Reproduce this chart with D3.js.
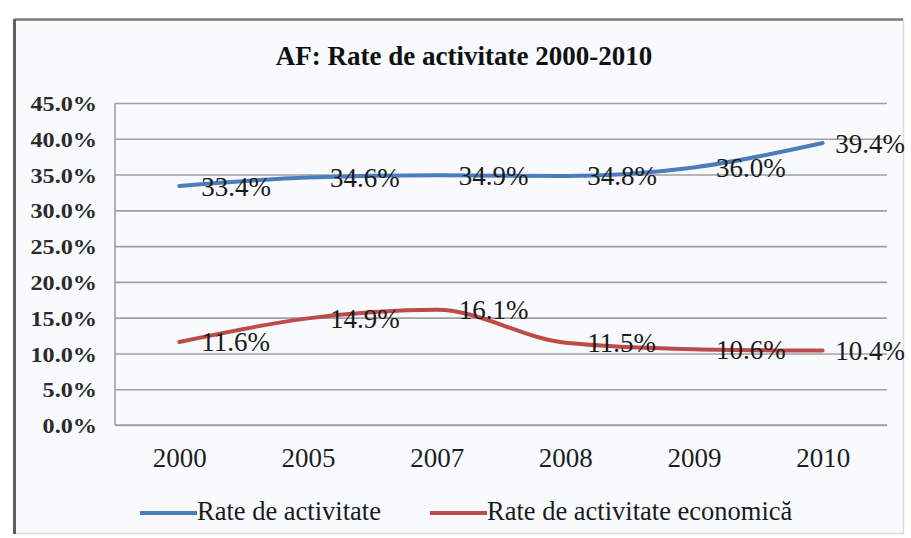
<!DOCTYPE html>
<html>
<head>
<meta charset="utf-8">
<script src="https://cdn.jsdelivr.net/npm/d3@7"></script>
<style>
  body { margin: 0; background: #fff; }
  svg { display: block; }
</style>
</head>
<body>
<div id="chart"></div>
<script>
// data
const years = ['2000', '2005', '2007', '2008', '2009', '2010'];
const rateActivitate = [33.4, 34.6, 34.9, 34.8, 36.0, 39.4];
const rateEconomica = [11.6, 14.9, 16.1, 11.5, 10.6, 10.4];
const yTicks = [0, 5, 10, 15, 20, 25, 30, 35, 40, 45];
const seriesNames = ['Rate de activitate', 'Rate de activitate economică'];
const titleText = 'AF: Rate de activitate 2000-2010';

const width = 911, height = 538;
const plot = { left: 115, right: 887, top: 103, bottom: 425 };
const frameRight = 905;
const colors = ['#4a7ebb', '#be4b48'];
const serif = 'Liberation Serif';

const svg = d3.select('#chart').append('svg')
  .attr('width', width)
  .attr('height', height);

svg.append('rect').attr('width', width).attr('height', height).attr('fill', '#fff');

// outer frame
svg.append('rect')
  .attr('x', 14.5).attr('y', 19.5)
  .attr('width', 889).attr('height', 514)
  .attr('fill', '#f8fafd')
  .attr('stroke', '#dcdcdc').attr('stroke-width', 1.5);
svg.append('line')
  .attr('x1', 14.5).attr('x2', 903).attr('y1', 19.5).attr('y2', 19.5)
  .attr('stroke', '#7e7878').attr('stroke-width', 2.5);
svg.append('line')
  .attr('x1', 14.5).attr('x2', 14.5).attr('y1', 19).attr('y2', 534)
  .attr('stroke', '#5f5d5d').attr('stroke-width', 3);

const x = d3.scalePoint()
  .domain(years)
  .range([plot.left, plot.right])
  .padding(0.5);

const y = d3.scaleLinear()
  .domain([0, 45])
  .range([plot.bottom, plot.top]);

// gridlines + y labels
const yAxis = svg.append('g')
  .attr('class', 'y-axis')
  .attr('transform', `translate(${plot.left},0)`)
  .call(d3.axisLeft(y)
    .tickValues(yTicks)
    .tickSize(-(plot.right - plot.left))
    .tickPadding(18)
    .tickFormat(d => d.toFixed(1) + '%'));
yAxis.select('.domain').remove();
yAxis.selectAll('.tick line')
  .attr('stroke', '#a69e9c')
  .attr('stroke-width', 1.6);
yAxis.selectAll('.tick text')
  .attr('font-family', serif)
  .attr('font-size', 20)
  .attr('font-weight', 'bold')
  .attr('fill', '#2b2b2b')
  .attr('dy', '0.38em')
  .each(function () {
    // the labels in the picture are stretched sideways
    const len = this.getComputedTextLength();
    d3.select(this).attr('textLength', len * 1.21).attr('lengthAdjust', 'spacingAndGlyphs');
  });

// axis lines
svg.append('line')
  .attr('x1', plot.left).attr('x2', plot.left)
  .attr('y1', plot.top).attr('y2', plot.bottom)
  .attr('stroke', '#a69e9c').attr('stroke-width', 1.6);
svg.append('line')
  .attr('x1', plot.left).attr('x2', plot.right)
  .attr('y1', plot.bottom).attr('y2', plot.bottom)
  .attr('stroke', '#a69e9c').attr('stroke-width', 1.6);

// x labels
const xAxis = svg.append('g')
  .attr('class', 'x-axis')
  .attr('transform', `translate(0,${plot.bottom})`)
  .call(d3.axisBottom(x).tickSize(0).tickPadding(23));
xAxis.select('.domain').remove();
xAxis.selectAll('.tick text')
  .attr('font-family', serif)
  .attr('font-size', 27)
  .attr('fill', '#1e1e1e');

// smoothed lines
const line = d3.line()
  .x((d, i) => x(years[i]))
  .y(d => y(d))
  .curve(d3.curveMonotoneX);

const series = [rateActivitate, rateEconomica];

svg.append('g')
  .selectAll('path')
  .data(series)
  .join('path')
  .attr('d', d => line(d))
  .attr('fill', 'none')
  .attr('stroke', (d, i) => colors[i])
  .attr('stroke-width', 4)
  .attr('stroke-linecap', 'round')
  .attr('stroke-linejoin', 'round');

// value labels, to the right of each point, kept inside the frame
series.forEach((vals, s) => {
  svg.append('g')
    .attr('class', `labels${s}`)
    .selectAll('text')
    .data(vals)
    .join('text')
    .attr('y', d => y(d) + 9.5)
    .attr('font-family', serif)
    .attr('font-size', 27)
    .attr('fill', '#1a1a1a')
    .text(d => d.toFixed(1) + '%')
    .attr('x', function (d, i) {
      const w = this.getComputedTextLength();
      return Math.min(x(years[i]) + 22, frameRight - w);
    });
});

// title
svg.append('text')
  .attr('x', 464)
  .attr('y', 65)
  .attr('text-anchor', 'middle')
  .attr('font-family', serif)
  .attr('font-size', 27)
  .attr('font-weight', 'bold')
  .attr('fill', '#111')
  .text(titleText);

// legend
const legendX = [140, 430];
const legend = svg.append('g').attr('class', 'legend');
legend.selectAll('g')
  .data(seriesNames)
  .join('g')
  .attr('transform', (d, i) => `translate(${legendX[i]},513)`)
  .call(g => {
    g.append('line')
      .attr('x1', 0).attr('x2', 57)
      .attr('stroke', (d, i) => colors[i])
      .attr('stroke-width', 4);
  })
  .call(g => {
    g.append('text')
      .attr('x', 57)
      .attr('y', 7)
      .attr('font-family', serif)
      .attr('font-size', 26.5)
      .attr('fill', '#1a1a1a')
      .text(d => d);
  });
</script>
</body>
</html>
